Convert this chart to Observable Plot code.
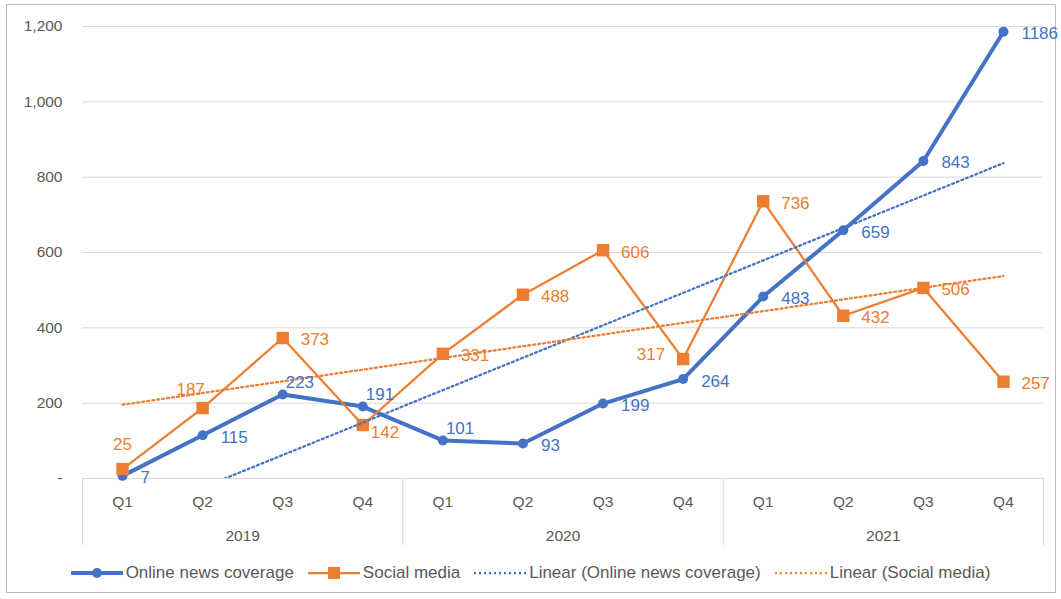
<!DOCTYPE html>
<html>
<head>
<meta charset="utf-8">
<script src="https://cdn.jsdelivr.net/npm/d3@7"></script>
<script src="https://cdn.jsdelivr.net/npm/@observablehq/plot@0.6"></script>
<style>
  body { margin: 0; background: #fff; font-family: "Liberation Sans", Arial, sans-serif; }
  #frame { position: absolute; left: 6px; top: 4px; width: 1050px; height: 589px; border: 1px solid #bcbcbc; box-sizing: border-box; }
  #chart { position: absolute; left: 0; top: 0; }
  #legend { position: absolute; left: 0; top: 561px; width: 1061px; height: 24px; display: flex; justify-content: center; align-items: center; gap: 14px; font-size: 17px; color: #595959; }
  .item { display: flex; align-items: center; gap: 3px; white-space: nowrap; }
</style>
</head>
<body>
<div id="frame"></div>
<div id="chart"></div>
<div id="legend"></div>
<script>
// Quarterly mentions, 2019–2021
const quarters = ["Q1", "Q2", "Q3", "Q4"];
const years = ["2019", "2020", "2021"];
const onlineNews = [7, 115, 223, 191, 101, 93, 199, 264, 483, 659, 843, 1186];
const socialMedia = [25, 187, 373, 142, 331, 488, 606, 317, 736, 432, 506, 257];
const yTicks = [0, 200, 400, 600, 800, 1000, 1200];

// Where each data label sits relative to its point
const onlineNewsLabelPos = ["R", "R", "TR", "TR", "TR", "R", "R", "R", "R", "R", "R", "R"];
const socialMediaLabelPos = ["T", "TL", "R", "BR", "R", "R", "R", "L", "R", "R", "R", "R"];

const BLUE = "#4472C4";
const ORANGE = "#ED7D31";

const toRows = (values, pos) => values.map((v, k) => ({
  i: k + 1,
  quarter: quarters[k % 4],
  year: years[Math.floor(k / 4)],
  value: v,
  pos: pos[k]
}));
const newsRows = toRows(onlineNews, onlineNewsLabelPos);
const socialRows = toRows(socialMedia, socialMediaLabelPos);

const placements = {
  R:  { textAnchor: "start",  dx: 18,  dy: 2 },
  TR: { textAnchor: "start",  dx: 3,   dy: -12 },
  T:  { textAnchor: "middle", dx: 0,   dy: -25 },
  TL: { textAnchor: "middle", dx: -12, dy: -19 },
  BR: { textAnchor: "start",  dx: 8,   dy: 8 },
  L:  { textAnchor: "end",    dx: -18, dy: -5 }
};

function labels(rows, color) {
  return Object.entries(placements).map(([key, p]) =>
    Plot.text(rows, {
      filter: d => d.pos === key,
      x: "i", y: "value", text: d => String(d.value),
      fill: color, fontSize: 17, ...p
    })
  );
}

const chart = Plot.plot({
  width: 1061,
  height: 555,
  marginLeft: 82,
  marginRight: 18,
  marginTop: 26,
  marginBottom: 77,
  style: { fontSize: "15.5px", fontFamily: "'Liberation Sans', Arial, sans-serif", color: "#595959", background: "transparent" },
  x: { type: "linear", domain: [0.5, 12.5] },
  y: { domain: [0, 1200] },
  marks: [
    Plot.gridY(yTicks, { stroke: "#d9d9d9", strokeOpacity: 1 }),
    Plot.ruleY([0], { stroke: "#d9d9d9" }),
    Plot.axisY({
      ticks: yTicks, tickSize: 0, tickPadding: 20, label: null,
      tickFormat: d => d === 0 ? "-" : d3.format(",")(d)
    }),
    // category tiers: quarters, then years, with group separators
    Plot.axisX(d3.range(1, 13), {
      tickSize: 0, tickPadding: 17, label: null,
      tickFormat: i => quarters[(i - 1) % 4]
    }),
    Plot.axisX([2.5, 6.5, 10.5], {
      tickSize: 0, tickPadding: 51, label: null,
      tickFormat: v => years[Math.floor((v - 0.5) / 4)]
    }),
    Plot.axisX([0.5, 4.5, 8.5, 12.5], {
      tickSize: 67, stroke: "#d9d9d9", label: null, tickFormat: () => ""
    }),
    Plot.line(newsRows, { x: "i", y: "value", stroke: BLUE, strokeWidth: 4, strokeLinejoin: "round" }),
    Plot.dot(newsRows, { x: "i", y: "value", r: 5, fill: BLUE }),
    Plot.line(socialRows, { x: "i", y: "value", stroke: ORANGE, strokeWidth: 2.25 }),
    Plot.dot(socialRows, { x: "i", y: "value", symbol: "square", r: 7, fill: ORANGE }),
    Plot.linearRegressionY(newsRows, { x: "i", y: "value", stroke: BLUE, strokeWidth: 2.25, strokeDasharray: "2,3", ci: 0, clip: true }),
    Plot.linearRegressionY(socialRows, { x: "i", y: "value", stroke: ORANGE, strokeWidth: 2.25, strokeDasharray: "2,3", ci: 0, clip: true }),
    ...labels(newsRows, BLUE),
    ...labels(socialRows, ORANGE)
  ]
});
document.getElementById("chart").appendChild(chart);

// Legend
const legendItems = [
  { name: "Online news coverage", color: BLUE, width: 4, marker: "circle", dash: null },
  { name: "Social media", color: ORANGE, width: 2.25, marker: "square", dash: null },
  { name: "Linear (Online news coverage)", color: BLUE, width: 2.25, marker: null, dash: "2,3" },
  { name: "Linear (Social media)", color: ORANGE, width: 2.25, marker: null, dash: "2,3" }
];
const legend = d3.select("#legend");
for (const it of legendItems) {
  const item = legend.append("div").attr("class", "item");
  const svg = item.append("svg").attr("width", 52).attr("height", 14);
  svg.append("line").attr("x1", 0).attr("x2", 52).attr("y1", 7).attr("y2", 7)
    .attr("stroke", it.color).attr("stroke-width", it.width)
    .attr("stroke-dasharray", it.dash);
  if (it.marker === "circle") svg.append("circle").attr("cx", 26).attr("cy", 7).attr("r", 5).attr("fill", it.color);
  if (it.marker === "square") svg.append("rect").attr("x", 20).attr("y", 1).attr("width", 12).attr("height", 12).attr("fill", it.color);
  item.append("span").text(it.name);
}
</script>
</body>
</html>
